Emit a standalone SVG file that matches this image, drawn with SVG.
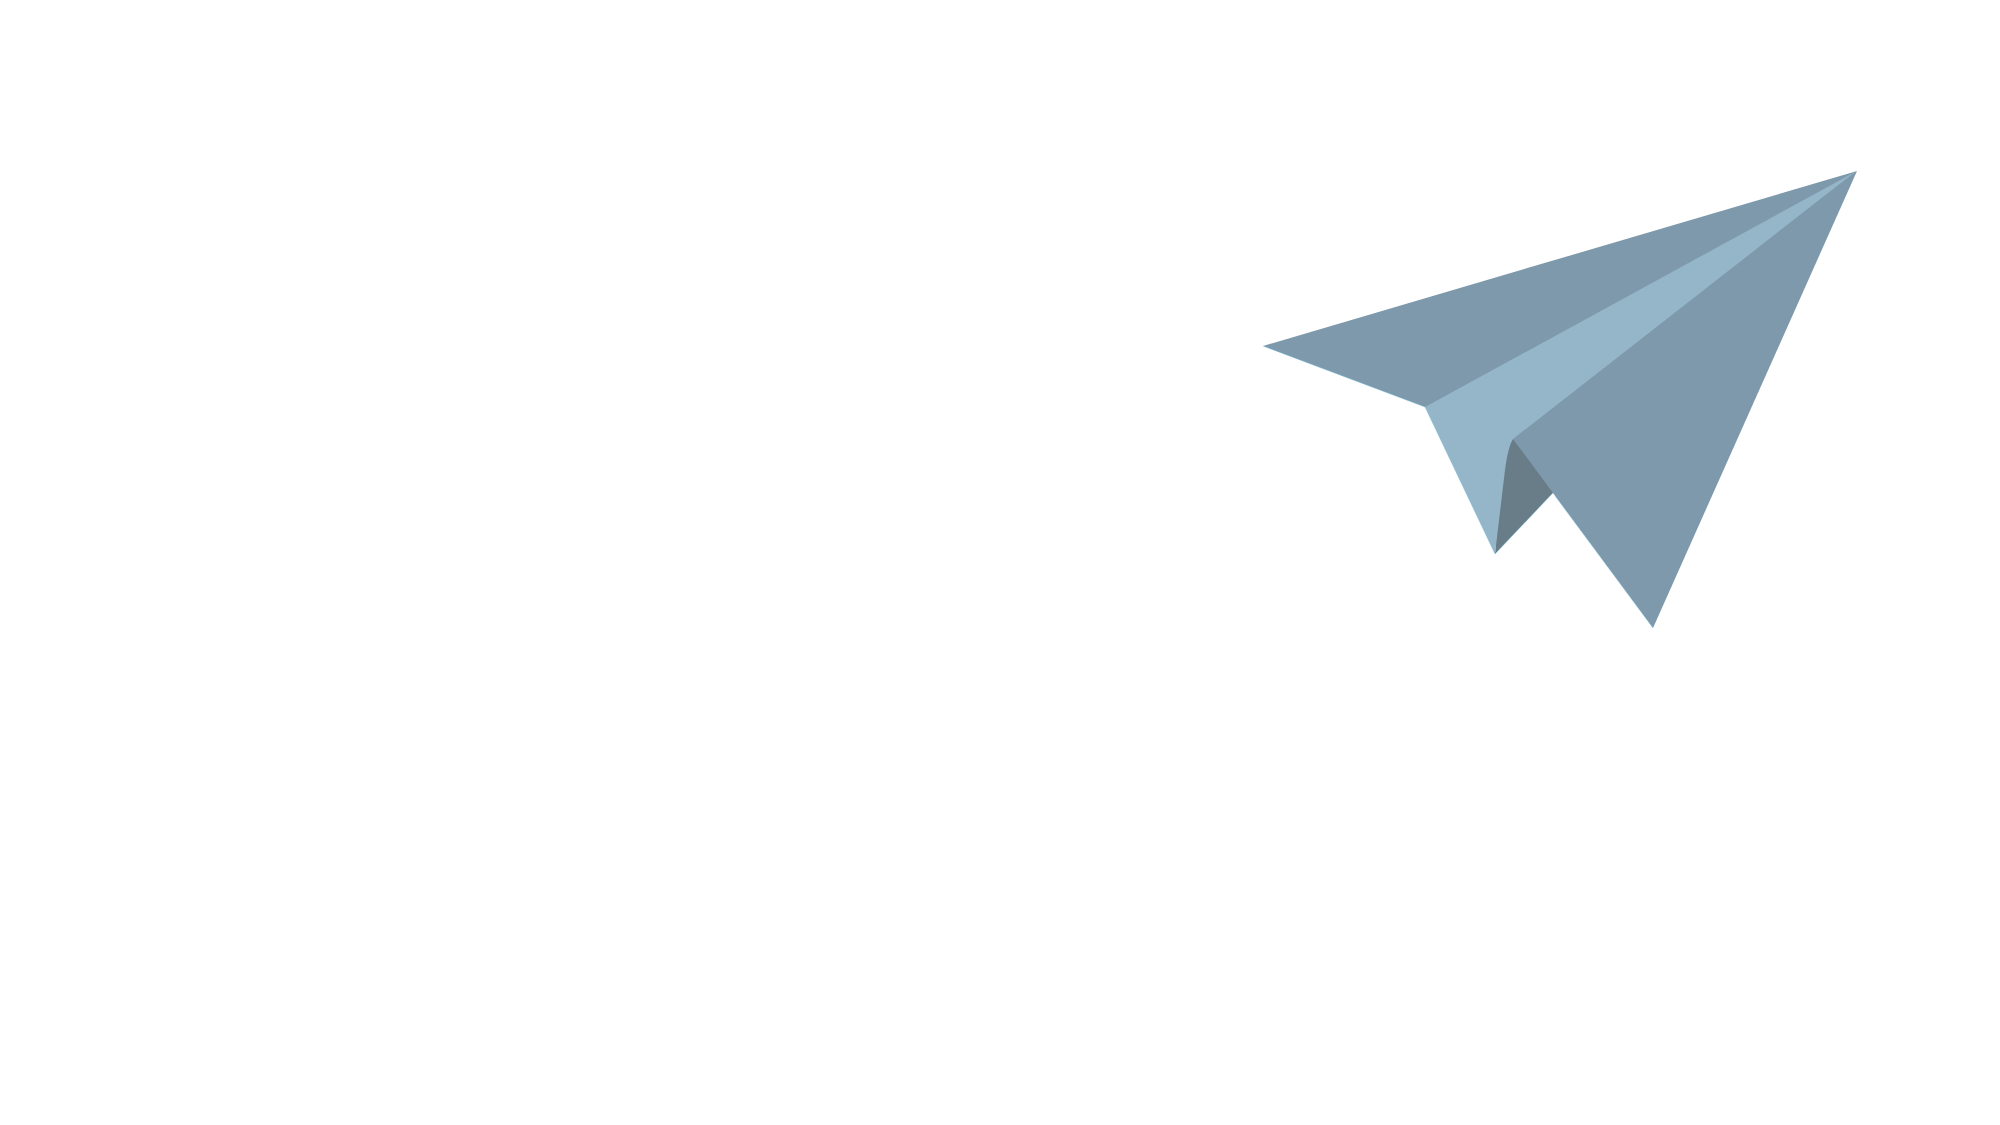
<svg xmlns="http://www.w3.org/2000/svg" width="2000" height="1125" viewBox="0 0 2000 1125">
<style>
.main{fill:#7D99AB}
.light{fill:#95B5C8}
.dark{fill:#687D88}
.edge{fill:none;stroke:#6EC3E4;stroke-width:0.7;stroke-opacity:0.55;stroke-linejoin:round}
</style>
<rect width="2000" height="1125" fill="#FFFFFF"/>
<g id="paper-plane">
<polygon id="left-wing" class="main" points="1263,346 1857,171 1513,430 1425,407"/>
<path id="keel" class="dark" d="M1503,450 L1513,432 L1585,459 L1495,554 Z"/>
<polygon id="right-wing" class="main" points="1513,439 1515,432 1830,188 1857,171 1653,628"/>
<path id="fold" class="light" d="M1425,407 L1855,172 L1513,439 Q1508,447 1505,470 L1495,554 Z"/>
<polyline class="edge" points="1263,346 1425,407 1495,554 1553,493"/>
<polyline class="edge" points="1555,496 1653,628"/>
</g>
</svg>
